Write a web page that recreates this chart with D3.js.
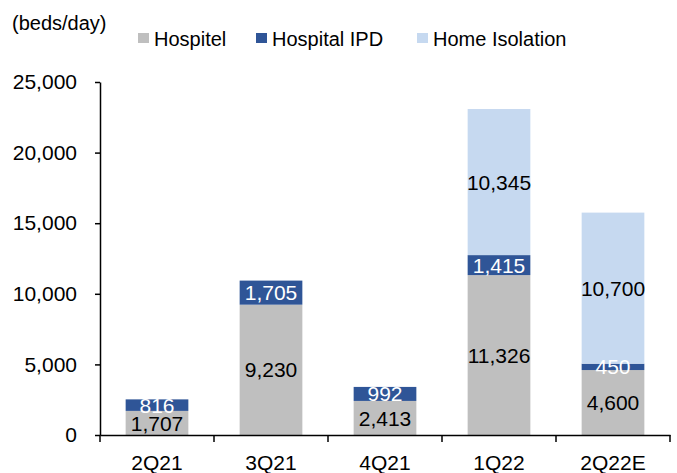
<!DOCTYPE html>
<html>
<head>
<meta charset="utf-8">
<script src="https://cdn.jsdelivr.net/npm/d3@7"></script>
<style>
  body { margin: 0; background: #fff; }
  text { font-family: "Liberation Sans", Arial, sans-serif; }
</style>
</head>
<body>
<div id="container"></div>
<script>
var quarters = ['2Q21', '3Q21', '4Q21', '1Q22', '2Q22E'];
var hospitel = [1707, 9230, 2413, 11326, 4600];
var hospitalIPD = [816, 1705, 992, 1415, 450];
var homeIsolation = [0, 0, 0, 10345, 10700];
var yTicks = [0, 5000, 10000, 15000, 20000, 25000];

var seriesNames = ['Hospitel', 'Hospital IPD', 'Home Isolation'];
var colors = ['#bfbfbf', '#2f5597', '#c6d9f0'];
var labelColors = ['#000', '#fff', '#000'];

var svgWidth = 677,
    svgHeight = 473,
    svg = d3.select('#container').append('svg').attr('width', svgWidth).attr('height', svgHeight).style('background-color', 'white'),
    margin = { top: 82, right: 7, bottom: 38, left: 100 },
    width = svgWidth - margin.left - margin.right,
    height = svgHeight - margin.bottom - margin.top;

var g = svg.append('g').attr('transform', 'translate(' + margin.left + ',' + margin.top + ')');

var table = quarters.map(function(q, i) {
  return { q: q, 'Hospitel': hospitel[i], 'Hospital IPD': hospitalIPD[i], 'Home Isolation': homeIsolation[i] };
});
var stacked = d3.stack().keys(seriesNames)(table);

var x = d3.scaleBand().domain(quarters).range([0, width]).paddingInner(0.45).paddingOuter(0.225);
var y = d3.scaleLinear().domain([0, 25000]).range([height, 0]);

// bars
stacked.forEach(function(layer, li) {
  g.append('g').selectAll('rect')
    .data(layer.filter(function(d) { return d[1] - d[0] > 0; }))
    .enter().append('rect')
    .attr('x', function(d) { return x(d.data.q); })
    .attr('width', x.bandwidth())
    .attr('y', function(d) { return y(d[1]); })
    .attr('height', function(d) { return y(d[0]) - y(d[1]); })
    .attr('fill', colors[li]);
});

// value labels
stacked.forEach(function(layer, li) {
  g.append('g').selectAll('text')
    .data(layer.filter(function(d) { return d[1] - d[0] > 0; }))
    .enter().append('text')
    .attr('x', function(d) { return x(d.data.q) + x.bandwidth() / 2; })
    .attr('y', function(d) { return (y(d[0]) + y(d[1])) / 2; })
    .attr('dy', '0.36em')
    .attr('text-anchor', 'middle')
    .style('font-size', '21px')
    .attr('fill', labelColors[li])
    .text(function(d) { return d3.format(',')(d[1] - d[0]); });
});

// axes
var yAxis = g.append('g')
  .call(d3.axisLeft(y).tickValues(yTicks).tickFormat(d3.format(',')).tickSizeOuter(0).tickSizeInner(5).tickPadding(18));
yAxis.selectAll('text').style('font-size', '21px').attr('fill', '#000');
yAxis.selectAll('line, path').attr('stroke', '#000').attr('stroke-width', 1.5);

var xAxis = g.append('g').attr('transform', 'translate(0,' + height + ')')
  .call(d3.axisBottom(x).tickSize(0).tickPadding(20));
xAxis.select('.domain').attr('stroke', '#000').attr('stroke-width', 1.5);
xAxis.selectAll('text').style('font-size', '21px').attr('fill', '#000');

// category separators on the x axis
var step = x.step();
g.append('g').selectAll('line')
  .data(d3.range(quarters.length + 1))
  .enter().append('line')
  .attr('x1', function(i) { return i * step; })
  .attr('x2', function(i) { return i * step; })
  .attr('y1', height)
  .attr('y2', height + 7)
  .attr('stroke', '#000')
  .attr('stroke-width', 1.5);

// unit label
svg.append('text')
  .attr('x', 12)
  .attr('y', 30)
  .style('font-size', '20px')
  .text('(beds/day)');

// legend
var legendX = [138, 256, 417];
var legend = svg.append('g');
seriesNames.forEach(function(name, i) {
  legend.append('rect')
    .attr('x', legendX[i]).attr('y', 33)
    .attr('width', 11).attr('height', 10)
    .attr('fill', colors[i]);
  legend.append('text')
    .attr('x', legendX[i] + 16).attr('y', 46)
    .style('font-size', '20px')
    .text(name);
});
</script>
</body>
</html>
